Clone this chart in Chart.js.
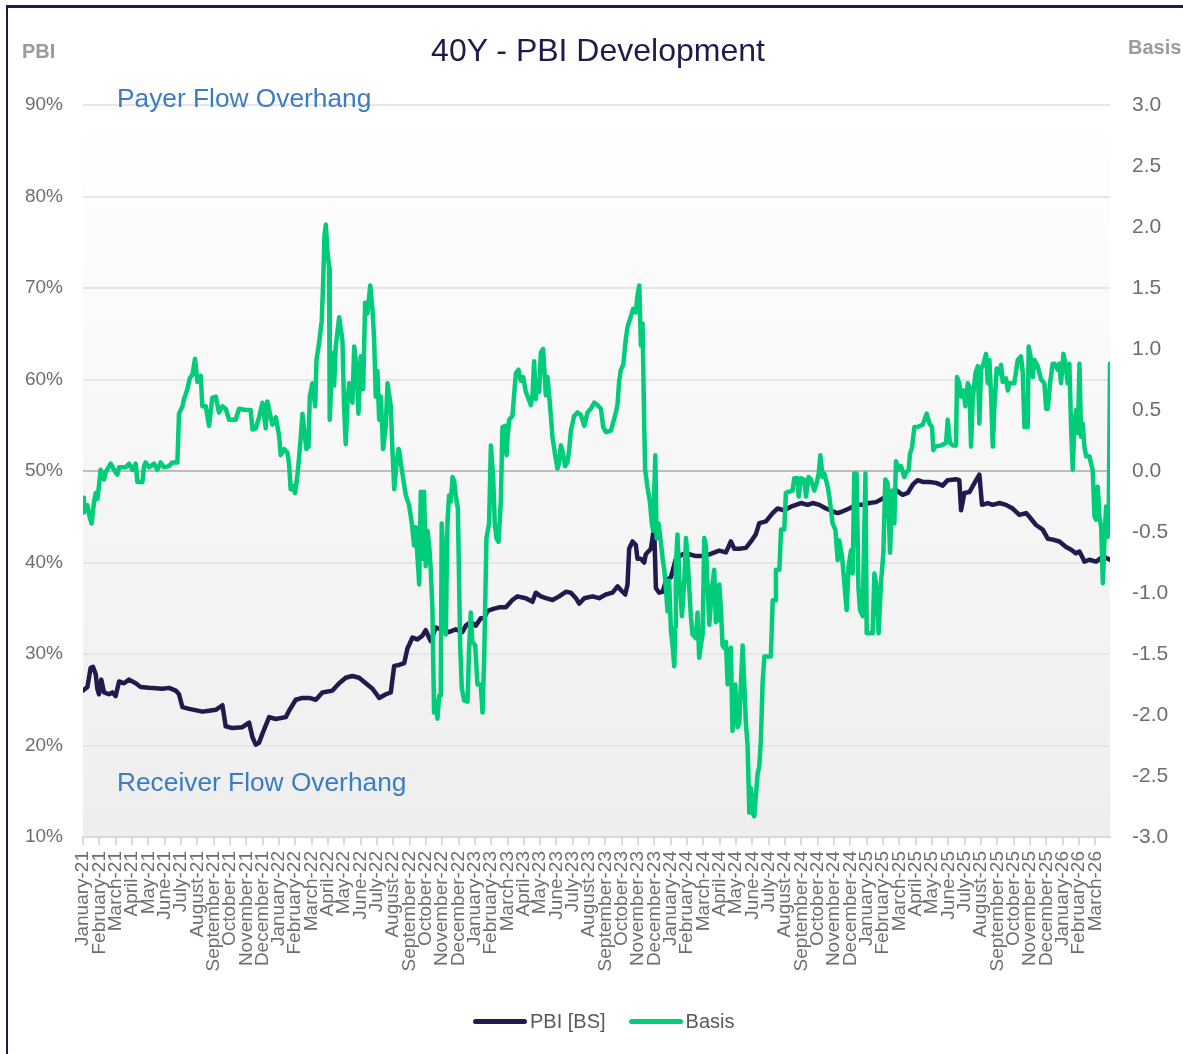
<!DOCTYPE html>
<html>
<head>
<meta charset="utf-8">
<title>40Y - PBI Development</title>
<script src="https://cdn.jsdelivr.net/npm/chart.js@4.4.0/dist/chart.umd.min.js"></script>
<style>
  html, body { margin: 0; padding: 0; background: #fff; }
  body { width: 1183px; height: 1054px; overflow: hidden; position: relative; font-family: "Liberation Sans", Arial, sans-serif; }
  #frame { position: absolute; left: 6px; top: 5px; width: 1300px; height: 1200px; border-left: 2.5px solid #1f1a4d; border-top: 3px solid #1f1a4d; }
  #wrap { position: absolute; left: 0; top: 0; width: 1183px; height: 1054px; }
  .txt { position: absolute; white-space: nowrap; }
  #title { left: 398px; width: 400px; top: 30px; text-align: center; font-size: 32px; line-height: 40px; color: #211a4e; }
  #axL { left: 22px; top: 38px; font-size: 20px; line-height: 26px; font-weight: bold; color: #9b9b9b; }
  #axR { left: 1128px; top: 34px; font-size: 20px; line-height: 26px; font-weight: bold; color: #9b9b9b; }
  .note { left: 117px; font-size: 26.3px; line-height: 30px; color: #3b7cc4; }
  #payer { top: 83px; }
  #recv { top: 767px; }
  #legend { position: absolute; left: 473px; top: 1009px; height: 24px; display: flex; align-items: center; font-size: 20px; color: #595959; }
  .item { display: flex; align-items: center; margin-right: 23px; }
  .key { display: inline-block; width: 54px; height: 5px; border-radius: 3px; margin-right: 3px; }
</style>
</head>
<body>
<div id="frame"></div>
<div id="wrap"><canvas id="chart" width="1183" height="1054"></canvas></div>
<div class="txt" id="title">40Y - PBI Development</div>
<div class="txt" id="axL">PBI</div>
<div class="txt" id="axR">Basis</div>
<div class="txt note" id="payer">Payer Flow Overhang</div>
<div class="txt note" id="recv">Receiver Flow Overhang</div>
<div id="legend"></div>
<script>
// ---------------------------------------------------------------------
// Dati: x = mesi da gennaio 2021 (0 = Jan-21)
// ---------------------------------------------------------------------
const MONTH_NAMES = ['January', 'February', 'March', 'April', 'May', 'June',
  'July', 'August', 'September', 'October', 'November', 'December'];
const YEARS = ['21', '22', '23', '24', '25', '26'];
const monthLabels = [];
YEARS.forEach(y => MONTH_NAMES.forEach(m => monthLabels.push(m + '-' + y)));
monthLabels.length = 63;   // fino a March-26

// PBI [BS] in %
const pbiMonth = [
  0, 0.27, 0.47, 0.61, 0.78, 0.88, 0.98, 1.12, 1.29, 1.59,
  1.80, 2.00, 2.21, 2.51, 2.82, 3.23, 3.53, 4.04, 4.86, 5.27,
  5.68, 5.88, 6.09, 6.50, 7.31, 7.72, 8.13, 8.54, 8.74, 9.15,
  9.76, 10.17, 10.38, 10.58, 10.78, 10.99, 11.40, 11.81, 12.42, 12.62,
  13.03, 13.44, 13.85, 14.26, 14.66, 15.28, 15.69, 16.09, 16.50, 16.91,
  17.32, 17.73, 18.14, 18.55, 18.85, 19.06,
  19.36, 19.67, 19.87, 20.18, 20.48, 20.79, 20.99, 21.30, 21.61, 22.02,
  22.42, 22.83, 23.24, 23.45, 23.75, 24.06, 24.36, 24.57, 24.77, 25.08,
  25.49, 25.90, 26.30, 26.61, 27.12, 27.53, 27.73, 28.04, 28.35, 28.76,
  29.16, 29.57, 29.88, 30.19, 30.39, 30.70, 31.21, 31.61, 32.02, 32.43,
  32.74, 32.94, 33.21, 33.35, 33.45, 33.66, 33.86, 33.96, 34.17, 34.37,
  34.47, 34.78, 34.88, 34.98, 35.09, 35.29, 35.50, 35.70, 36.01, 36.31,
  36.72, 37.13, 37.54, 37.95, 38.36, 38.97, 39.38, 39.68, 39.89, 40.19,
  40.60, 40.91, 41.21,
  41.42, 41.83, 42.24, 42.54, 42.95, 43.36, 43.67, 43.97, 44.38, 44.69,
  45.10, 45.50, 45.91, 46.22, 46.53, 46.93, 47.34, 47.75, 48.16, 48.57,
  48.98, 49.39, 49.79, 50.20, 50.51, 50.82, 51.12, 51.43, 51.84, 52.25,
  52.65, 52.96, 53.47, 53.67, 53.78, 53.98, 54.29, 54.70, 54.90, 55.06,
  55.41, 55.72, 56.13, 56.53, 56.94, 57.35, 57.76, 57.96, 58.37, 58.78,
  59.09, 59.39, 59.80, 60.21, 60.52, 60.82, 61.03, 61.23, 61.33, 61.64,
  62.05, 62.36, 62.56, 62.90
];
const pbiValue = [
  26.0, 26.4, 28.5, 28.6, 27.8, 26.2, 25.6, 27.2, 25.8, 25.6,
  25.8, 25.4, 27.0, 26.8, 27.2, 26.8, 26.4, 26.3, 26.2, 26.3,
  26.0, 25.6, 24.2, 24.0, 23.7, 23.8, 23.9, 24.4, 22.1, 21.9,
  22.0, 22.5, 20.9, 20.1, 20.3, 21.3, 23.1, 22.9, 23.1, 23.8,
  25.0, 25.2, 25.2, 25.0, 25.8, 26.0, 26.8, 27.4, 27.6, 27.4,
  26.8, 26.2, 25.2, 25.6, 25.8, 28.7,
  28.8, 29.0, 30.6, 31.8, 31.6, 32.0, 32.6, 31.4, 32.9, 32.6,
  32.4, 32.7, 32.4, 33.1, 33.5, 33.1, 33.9, 33.9, 34.7, 34.9,
  35.1, 35.1, 35.9, 36.3, 36.1, 35.7, 36.7, 36.3, 36.1, 35.9,
  36.3, 36.8, 36.7, 36.1, 35.5, 36.1, 36.3, 36.1, 36.5, 36.7,
  37.4, 37.0, 36.5, 37.6, 41.5, 42.3, 41.9, 40.4, 40.4, 40.0,
  40.9, 41.5, 42.7, 43.9, 37.2, 36.7, 36.8, 38.0, 38.4, 40.4,
  40.9, 40.9, 40.7, 40.7, 40.9, 41.3, 41.1, 42.3, 41.5, 41.5,
  41.6, 42.3, 43.1,
  44.3, 44.5, 45.4, 45.9, 45.7, 46.1, 46.3, 46.5, 46.3, 46.5,
  46.3, 45.9, 45.6, 45.4, 45.6, 45.9, 46.3, 46.3, 46.5, 46.6,
  47.0, 47.6, 47.9, 47.4, 47.6, 48.5, 49.0, 48.8, 48.8, 48.7,
  48.4, 49.0, 49.1, 49.0, 45.7, 47.6, 47.7, 49.0, 49.6, 46.3,
  46.5, 46.3, 46.5, 46.3, 45.9, 45.2, 45.4, 45.0, 44.1, 43.6,
  42.6, 42.5, 42.3, 41.7, 41.4, 41.0, 41.2, 40.5, 40.1, 40.3,
  40.1, 40.5, 40.6, 40.3
];

// Basis (asse destro)
const basisMonth = [
  0, 0.06, 0.27, 0.41, 0.53, 0.67, 0.78, 0.88, 0.98, 1.08,
  1.29, 1.39, 1.70, 1.90, 2.10, 2.21, 2.61, 2.82, 3.02, 3.23,
  3.33, 3.64, 3.74, 3.84, 4.04, 4.35, 4.55, 4.76, 4.96, 5.27,
  5.47, 5.78, 5.88, 6.09, 6.19, 6.39, 6.54, 6.70, 6.86, 7.01,
  7.21, 7.31, 7.52, 7.72, 7.92, 8.13, 8.33, 8.54, 8.74, 8.95,
  9.35, 9.56, 9.97, 10.27, 10.38, 10.58, 10.78, 10.99, 11.19, 11.29,
  11.40, 11.60, 11.81, 12.01, 12.11, 12.32, 12.52, 12.62, 12.72, 12.83,
  12.99, 13.13, 13.24, 13.34, 13.44, 13.54, 13.68, 13.81, 13.89, 14.05,
  14.22, 14.30, 14.46, 14.62, 14.71, 14.79, 14.87, 14.97, 15.07, 15.11,
  15.28, 15.38, 15.48, 15.69, 15.89, 15.99, 16.09, 16.20, 16.30, 16.50,
  16.61, 16.75, 16.87, 17.01, 17.16, 17.28, 17.42, 17.59, 17.73, 17.83,
  17.93, 18.03, 18.14, 18.24, 18.38, 18.55, 18.65, 18.85, 18.95, 19.06,
  19.16, 19.32,
  19.36, 19.56, 19.77, 19.97, 20.14, 20.28, 20.38, 20.48, 20.59, 20.69,
  20.79, 20.89, 20.99, 21.10, 21.20, 21.30, 21.40, 21.50, 21.61, 21.71,
  21.81, 21.91, 21.97, 22.12, 22.22, 22.32, 22.42, 22.53, 22.63, 22.73,
  22.83, 22.96, 23.10, 23.20, 23.34, 23.55, 23.65, 23.75, 23.85, 24.02,
  24.16, 24.36, 24.47, 24.57, 24.71, 24.87, 24.98, 25.12, 25.22, 25.32,
  25.45, 25.59, 25.69, 25.86, 25.94, 26.00, 26.10, 26.30, 26.51, 26.67,
  26.81, 26.96, 27.12, 27.43, 27.53, 27.63, 27.73, 27.84, 27.94, 28.04,
  28.18, 28.35, 28.45, 28.59, 28.76, 28.92, 29.06, 29.16, 29.27, 29.37,
  29.53, 29.67, 29.78, 29.88, 29.98, 30.08, 30.29, 30.49, 30.70, 30.90,
  31.10, 31.31, 31.51, 31.72, 31.86, 32.02, 32.33, 32.64, 32.74, 32.84,
  32.94, 33.09, 33.25, 33.35, 33.56, 33.70, 33.86, 33.96, 34.07, 34.17,
  34.27, 34.37, 34.43, 34.58, 34.72, 34.84, 34.92, 35.05, 35.13, 35.25,
  35.39, 35.50, 35.60, 35.70, 35.80, 35.90, 36.01, 36.11, 36.21, 36.27,
  36.31, 36.41, 36.52, 36.68, 36.82, 36.93, 37.03, 37.13, 37.23, 37.33,
  37.54, 37.64, 37.74, 37.84, 37.95, 38.05, 38.15, 38.25, 38.36, 38.52,
  38.66, 38.76, 38.87, 38.97, 39.07, 39.17, 39.27, 39.38, 39.48, 39.58,
  39.68, 39.78, 39.95, 40.09, 40.19, 40.40, 40.60, 40.70, 40.81, 40.91,
  41.01, 41.11, 41.21, 41.32,
  41.42, 41.52, 41.62, 41.73, 41.93, 42.13, 42.24, 42.40, 42.44, 42.65,
  42.75, 42.95, 43.05, 43.26, 43.46, 43.56, 43.77, 43.83, 43.97, 44.18,
  44.28, 44.44, 44.59, 44.79, 44.93, 45.06, 45.16, 45.30, 45.40, 45.50,
  45.61, 45.71, 45.81, 45.91, 46.08, 46.22, 46.32, 46.49, 46.63, 46.77,
  46.89, 47.04, 47.14, 47.24, 47.38, 47.49, 47.59, 47.75, 47.92, 48.00,
  48.16, 48.36, 48.47, 48.57, 48.73, 48.87, 49.02, 49.14, 49.28, 49.43,
  49.55, 49.69, 49.79, 49.96, 50.10, 50.30, 50.41, 50.57, 50.65, 50.77,
  50.92, 51.12, 51.43, 51.67, 51.84, 52.00, 52.08, 52.20, 52.55, 52.86,
  52.96, 53.10, 53.27, 53.47, 53.53, 53.67, 53.78, 53.92, 54.04, 54.19,
  54.29, 54.39, 54.49, 54.66, 54.80, 54.90, 55.00, 55.15, 55.31, 55.41,
  55.51, 55.62, 55.72, 55.82, 55.96, 56.13, 56.23, 56.33, 56.53, 56.64,
  56.74, 57.04, 57.25, 57.45, 57.56, 57.66, 57.86, 57.92, 58.07, 58.17,
  58.27, 58.47, 58.68, 58.88, 58.99, 59.09, 59.23, 59.39, 59.50, 59.70,
  59.80, 59.90, 60.05, 60.17, 60.31, 60.41, 60.52, 60.62, 60.72, 60.82,
  60.93, 61.03, 61.13, 61.23, 61.33, 61.44, 61.64, 61.74, 61.84, 61.95,
  62.05, 62.15, 62.25, 62.36, 62.46, 62.56, 62.66, 62.76, 62.82, 62.90
];
const basisValue = [
  -0.22, -0.34, -0.28, -0.38, -0.43, -0.26, -0.18, -0.23, -0.12, 0.01,
  -0.07, -0.01, 0.06, 0.01, -0.03, 0.03, 0.03, 0.06, 0.01, 0.06,
  -0.09, -0.09, 0.04, 0.07, 0.03, 0.06, 0.01, 0.07, 0.03, 0.04,
  0.07, 0.07, 0.47, 0.53, 0.59, 0.67, 0.76, 0.79, 0.92, 0.73,
  0.78, 0.53, 0.53, 0.37, 0.60, 0.61, 0.48, 0.53, 0.51, 0.42,
  0.42, 0.51, 0.50, 0.50, 0.34, 0.35, 0.44, 0.56, 0.35, 0.57,
  0.50, 0.38, 0.44, 0.29, 0.13, 0.18, 0.15, 0.06, -0.15, -0.12,
  -0.18, -0.04, 0.12, 0.28, 0.47, 0.35, 0.18, 0.20, 0.61, 0.72,
  0.53, 0.91, 1.05, 1.23, 1.55, 1.93, 2.02, 1.81, 1.67, 0.42,
  0.97, 0.70, 1.02, 1.26, 1.07, 0.53, 0.22, 0.56, 0.72, 0.56,
  1.02, 0.85, 0.47, 0.94, 0.67, 1.38, 1.29, 1.52, 1.32, 1.08,
  0.61, 0.82, 0.42, 0.61, 0.18, 0.38, 0.72, 0.53, 0.18, -0.15,
  0.00, 0.18,
  0.17, -0.02, -0.20, -0.28, -0.43, -0.61, -0.46, -0.69, -0.93, -0.17,
  -0.72, -0.17, -0.78, -0.49, -0.61, -0.81, -1.13, -1.98, -1.89, -2.03,
  -1.84, -1.84, -0.43, -0.81, -1.34, -0.43, -0.20, -0.25, -0.05, -0.08,
  -0.20, -0.31, -1.43, -1.78, -1.88, -1.89, -1.45, -1.16, -1.40, -1.43,
  -1.75, -1.75, -1.98, -1.54, -0.55, -0.43, 0.21, -0.05, -0.43, -0.55,
  -0.58, -0.25, 0.36, 0.37, 0.13, 0.27, 0.42, 0.45, 0.80, 0.83,
  0.74, 0.77, 0.65, 0.54, 0.62, 0.90, 0.59, 0.74, 0.65, 0.97,
  1.00, 0.62, 0.77, 0.56, 0.27, 0.13, 0.02, 0.07, 0.21, 0.16,
  0.04, 0.07, 0.18, 0.33, 0.39, 0.45, 0.48, 0.46, 0.37, 0.48,
  0.51, 0.56, 0.54, 0.51, 0.36, 0.32, 0.33, 0.48, 0.55, 0.74,
  0.83, 0.87, 1.09, 1.18, 1.27, 1.33, 1.30, 1.44, 1.52, 1.03,
  1.21, 0.39, 0.01, -0.14, -0.25, -0.43, -0.49, 0.13, -0.55, -0.43,
  -0.58, -0.72, -0.81, -0.96, -1.15, -0.90, -1.31, -1.43, -1.60, -1.28,
  -0.78, -0.52, -0.87, -1.19, -0.93, -0.55, -0.72, -0.96, -1.19, -1.34,
  -1.37, -1.16, -1.53, -1.43, -1.34, -0.55, -0.61, -0.93, -1.26, -0.96,
  -0.81, -1.24, -1.22, -0.93, -1.13, -1.43, -1.45, -1.40, -1.75, -1.48,
  -1.45, -2.13, -1.75, -2.10, -2.07, -1.43, -2.07, -2.24, -2.80, -2.60,
  -2.80, -2.83, -2.66, -2.48,
  -2.42, -2.20, -1.74, -1.52, -1.52, -1.52, -1.06, -1.06, -0.81, -0.81,
  -0.48, -0.48, -0.18, -0.17, -0.16, -0.06, -0.06, -0.21, -0.06, -0.07,
  -0.21, -0.05, -0.07, -0.16, -0.10, -0.02, 0.13, -0.05, -0.02, -0.07,
  -0.13, -0.21, -0.32, -0.43, -0.48, -0.73, -0.57, -0.70, -0.92, -1.14,
  -0.78, -0.65, -0.84, -0.02, -0.02, -0.95, -1.14, -1.19, -0.02, -1.33,
  -1.33, -1.33, -0.84, -0.92, -1.33, -0.92, -0.67, -0.07, -0.10, -0.67,
  -0.16, -0.43, 0.08, 0.01, 0.04, -0.05, -0.01, 0.01, 0.14, 0.19,
  0.36, 0.36, 0.38, 0.47, 0.39, 0.36, 0.17, 0.20, 0.21, 0.23,
  0.42, 0.23, 0.21, 0.21, 0.77, 0.72, 0.61, 0.66, 0.53, 0.72,
  0.69, 0.20, 0.58, 0.80, 0.86, 0.39, 0.83, 0.88, 0.96, 0.72,
  0.91, 0.61, 0.20, 0.53, 0.84, 0.80, 0.87, 0.73, 0.76, 0.66,
  0.72, 0.72, 0.91, 0.94, 0.80, 0.36, 0.36, 1.02, 0.91, 0.77,
  0.91, 0.86, 0.75, 0.72, 0.51, 0.51, 0.72, 0.88, 0.88, 0.83,
  0.88, 0.72, 0.96, 0.88, 0.72, 0.88, 0.34, 0.01, 0.39, 0.50,
  0.31, 0.88, 0.28, 0.39, 0.20, 0.12, 0.12, 0.06, 0.01, -0.37,
  -0.40, -0.13, -0.37, -0.46, -0.92, -0.57, -0.29, -0.54, -0.40, 0.88
];

const NAVY  = '#211a4e';
const GREEN = '#00cc7a';
const TICK_GREY = '#6e6e6e';

// ---------------------------------------------------------------------
// Sfondo sfumato dell'area del grafico
// ---------------------------------------------------------------------
const plotBg = {
  id: 'plotBg',
  beforeDraw(chart) {
    const { ctx, chartArea: a } = chart;
    const g = ctx.createLinearGradient(0, a.top, 0, a.bottom);
    g.addColorStop(0, '#ffffff');
    g.addColorStop(1, '#eeeeee');
    ctx.save();
    ctx.fillStyle = g;
    ctx.fillRect(a.left, a.top, a.right - a.left, a.bottom - a.top);
    ctx.restore();
  }
};

const toPoints = (xs, ys) => xs.map((x, i) => ({ x, y: ys[i] }));

const chart = new Chart(document.getElementById('chart'), {
  type: 'line',
  data: {
    datasets: [
      { label: 'PBI [BS]', data: toPoints(pbiMonth, pbiValue), yAxisID: 'y',
        borderColor: NAVY, backgroundColor: NAVY, borderWidth: 4.5, order: 1 },
      { label: 'Basis', data: toPoints(basisMonth, basisValue), yAxisID: 'y1',
        borderColor: GREEN, backgroundColor: GREEN, borderWidth: 4.5, order: 0 }
    ]
  },
  options: {
    responsive: false,
    animation: false,
    devicePixelRatio: 1,
    layout: { padding: { top: 105, bottom: 0, left: 0, right: 0 } },
    elements: {
      point: { radius: 0 },
      line: { tension: 0, borderJoinStyle: 'round', borderCapStyle: 'round' }
    },
    plugins: { legend: { display: false }, tooltip: { enabled: false } },
    scales: {
      x: {
        type: 'linear', min: 0, max: 62.9, offset: false,
        grid: { drawOnChartArea: false, drawTicks: true, tickLength: 8, color: '#d9d9d9', lineWidth: 2 },
        border: { display: true, color: '#d9d9d9', width: 2 },
        ticks: {
          stepSize: 1, includeBounds: false, autoSkip: false,
          minRotation: 90, maxRotation: 90, padding: 6,
          color: TICK_GREY, font: { family: 'Liberation Sans', size: 19 },
          callback: v => Number.isInteger(v) ? (monthLabels[v] || '') : ''
        },
        afterFit: s => { s.height = 217; }
      },
      y: {
        position: 'left', min: 10, max: 90,
        grid: {
          drawTicks: false, lineWidth: 2,
          color: c => (c.tick && c.tick.value === 50) ? '#bdbdbd' : '#e6e6e6'
        },
        border: { display: false },
        ticks: {
          stepSize: 10, padding: 20, color: TICK_GREY,
          font: { family: 'Liberation Sans', size: 19 },
          callback: v => v + '%'
        },
        afterFit: s => { s.width = 83; }
      },
      y1: {
        position: 'right', min: -3, max: 3,
        grid: { drawOnChartArea: false, drawTicks: false },
        border: { display: false },
        ticks: {
          stepSize: 0.5, padding: 22, color: TICK_GREY,
          font: { family: 'Liberation Sans', size: 21 },
          callback: v => v.toFixed(1)
        },
        afterFit: s => { s.width = 73; }
      }
    }
  },
  plugins: [plotBg]
});

// ---------------------------------------------------------------------
// Legenda (costruita dai dataset)
// ---------------------------------------------------------------------
const legendEl = document.getElementById('legend');
chart.data.datasets.forEach(ds => {
  const item = document.createElement('div');
  item.className = 'item';
  item.innerHTML = `<span class="key" style="background:${ds.borderColor}"></span><span>${ds.label}</span>`;
  legendEl.appendChild(item);
});
</script>
</body>
</html>
